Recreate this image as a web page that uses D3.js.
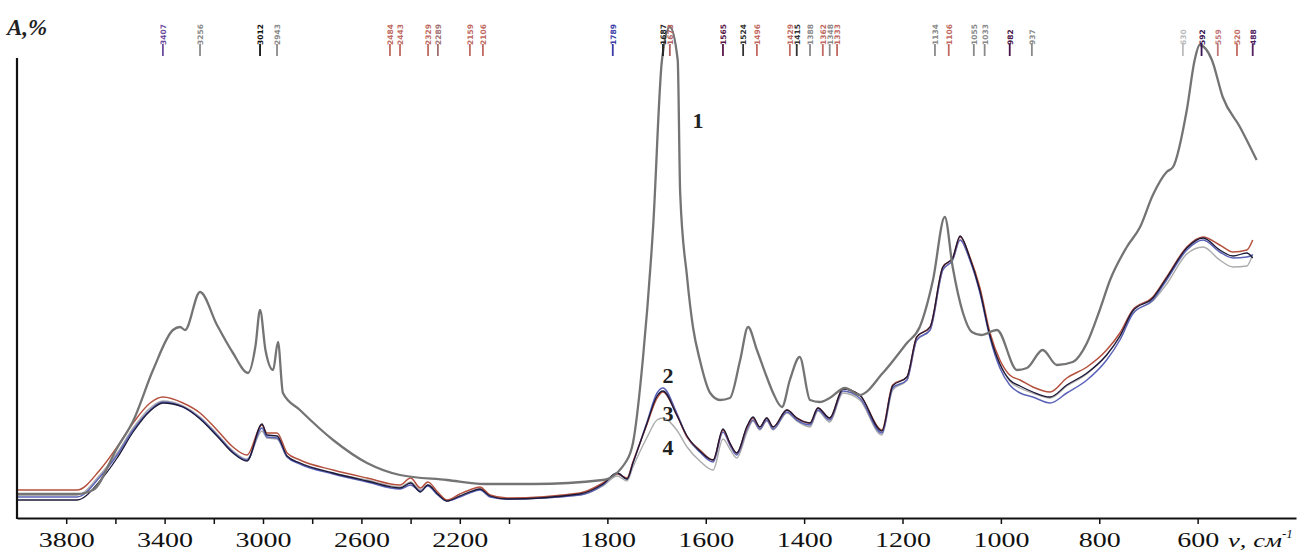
<!DOCTYPE html>
<html>
<head>
<meta charset="utf-8">
<script src="https://cdn.jsdelivr.net/npm/d3@7"></script>
<style>
  body { margin: 0; background: #fff; }
  svg { display: block; }
  .axis text { font-family: "Liberation Serif", "DejaVu Serif", serif; font-size: 20px; fill: #111; }
</style>
</head>
<body>
<svg id="chart" width="1302" height="554"></svg>
<script>
// IR spectra, absorbance vs wavenumber (cm-1)

// curve 1 (gray, top)
const wn1 = [4000,3756,3691,3593,3528,3447,3366,3337,3317,3256,
             3187,3122,3061,3030,3012,2990,2959,2939,2919,2850,
             2715,2577,2443,2252,2100,1950,1809,1760,1748,1728,
             1707,1689,1673,1657,1652,1638,1626,1612,1591,1571,
             1551,1530,1514,1496,1476,1463,1445,1429,1409,1388,
             1368,1348,1317,1287,1240,1191,1165,1138,1114,1098,
             1077,1059,1040,1008,967,947,915,886,854,825,
             799,778,744,717,691,663,650,622,606,596,
             571,549,514,480];
const curve1 = [4.8,4.8,5.6,14.0,19.4,29.6,37.6,38.2,37.6,45.2,
                38.6,33.0,29.0,34.6,41.6,33.6,29.6,35.2,25.0,21.6,
                15.6,11.0,8.6,7.6,6.8,6.8,7.6,11.6,15.0,31.6,
                58.2,91.6,98.2,91.6,65.0,48.2,38.2,31.6,25.0,23.6,
                24.0,31.6,38.2,33.6,28.2,25.0,22.2,27.6,32.2,23.6,
                23.2,24.0,26.0,24.6,29.0,35.0,38.2,47.6,60.2,50.2,
                41.0,37.2,36.6,37.6,29.6,30.0,33.6,30.6,31.2,35.0,
                41.6,47.6,54.2,58.2,64.6,69.2,70.2,81.6,91.6,94.6,
                91.6,84.2,78.2,71.6];

// lower curves share one wavenumber grid
const wnLow = [4000,3756,3663,3593,3528,3459,3407,3325,3256,3187,
               3122,3065,3004,2984,2943,2902,2850,2715,2577,2443,
               2400,2360,2330,2290,2252,2200,2160,2118,2077,2008,
               1856,1809,1780,1760,1748,1720,1699,1687,1659,1638,
               1612,1585,1565,1551,1537,1516,1504,1490,1476,1463,
               1435,1415,1388,1372,1348,1321,1287,1242,1220,1191,
               1171,1144,1118,1098,1083,1063,1043,1022,1002,982,
               961,935,900,866,825,785,758,732,691,663,
               622,589,555,528,500,488];
// curve 2 (blue)
const curve2 = [4.2,4.2,8.2,12.6,17.6,21.6,23.2,22.2,20.0,16.6,
                13.2,11.6,18.0,16.2,16.0,12.2,10.8,8.8,7.2,5.8,
                6.6,5.4,6.4,4.6,3.4,4.2,5.0,5.6,4.2,3.8,
                4.6,6.6,9.0,7.8,11.0,19.0,25.0,26.0,21.0,16.2,
                13.2,11.2,17.2,14.6,12.6,17.8,19.6,17.8,19.6,17.8,
                21.2,19.6,18.6,21.6,19.6,25.4,24.0,17.0,26.0,27.6,
                35.6,37.6,49.6,51.6,55.6,51.6,45.2,36.0,30.0,26.6,
                25.0,24.2,23.0,25.0,27.6,31.6,35.6,40.8,43.6,47.6,
                53.6,55.6,53.2,52.0,52.2,52.6];
// curve 3 (red-brown)
const curve3 = [5.6,5.6,9.6,14.2,19.0,23.0,24.2,23.0,21.0,17.6,
                14.2,12.6,18.6,17.0,17.0,13.0,11.6,9.6,8.0,6.6,
                8.0,6.0,7.2,5.2,3.6,4.8,5.6,6.2,4.6,4.0,
                5.0,7.0,8.8,8.0,11.2,18.6,24.0,25.2,20.6,16.2,
                13.6,11.6,17.6,15.0,13.0,18.2,20.0,18.2,20.0,18.2,
                21.6,20.0,19.0,22.0,20.0,25.8,24.6,17.6,26.6,28.2,
                36.2,38.2,50.2,52.0,56.2,52.2,46.2,37.0,31.6,28.6,
                27.6,26.2,25.2,28.0,30.2,33.6,37.0,41.6,44.2,48.2,
                54.2,56.2,54.6,53.2,53.6,55.6];
// curve 3, dark trace
const curve3b = [3.6,3.6,7.4,12.0,17.2,21.4,23.0,22.2,19.8,16.4,
                 13.0,11.4,18.8,16.6,16.4,12.4,11.0,9.0,7.4,6.0,
                 7.0,5.2,6.6,4.8,3.4,4.4,5.2,5.8,4.4,3.8,
                 4.8,6.8,9.0,7.8,11.0,18.8,24.4,25.4,20.6,16.4,
                 13.4,11.6,17.8,15.0,13.0,18.4,20.2,18.2,20.0,18.2,
                 21.6,20.0,19.0,22.0,20.0,25.8,24.6,17.4,26.4,28.2,
                 36.2,38.2,50.2,52.0,56.4,52.0,45.6,36.4,30.8,27.6,
                 26.4,25.2,24.2,26.6,29.0,32.6,36.4,41.4,44.0,48.0,
                 54.0,56.0,53.6,52.4,53.0,52.0];
// curve 4 (light gray)
const curve4 = [4.6,4.6,8.6,13.0,18.0,22.0,23.4,22.4,20.2,16.8,
                13.4,11.8,17.4,16.0,15.8,12.2,11.0,9.0,7.6,6.2,
                7.2,5.6,6.6,4.8,3.4,4.4,5.2,5.8,4.4,3.8,
                4.6,6.4,8.4,7.4,10.2,16.0,19.6,20.0,17.6,14.2,
                11.4,9.6,15.8,13.8,12.0,17.2,19.4,17.6,19.4,17.6,
                21.0,19.4,18.2,21.4,19.2,25.0,23.6,16.6,25.6,27.6,
                35.6,37.6,49.6,51.6,55.6,51.6,45.6,36.4,30.8,27.4,
                26.0,25.0,24.0,26.4,28.8,32.6,36.2,41.0,43.4,46.8,
                52.8,54.2,51.6,50.2,50.4,52.8];

// x axis ticks
const tickVals = [3800,3600,3400,3200,3000,2800,2600,2400,2200,2000,1800,1600,1400,1200,1000,800,600];
const tickLabels = [3800,3400,3000,2600,2200,1800,1600,1400,1200,1000,800,600];

// peak marks printed along the top edge
const markWn = [3407,3256,3012,2943,2484,2443,2329,2289,2159,2106,
                1789,1687,1673,1565,1524,1496,1429,1415,1388,1362,
                1348,1333,1134,1106,1055,1033,982,937,630,592,559,520,488];
const markColor = ['#6a4b9c','#8a8a8a','#111111','#8a8a8a','#c06a62','#c06a62','#c06a62','#a07070','#c06a62','#c06a62',
                   '#3a3aa8','#222222','#b06060','#5a1848','#333333','#c06a62','#c06a62','#333333','#8a8a8a','#c06a62',
                   '#8a8a8a','#c06a62','#8a8a8a','#c06a62','#8a8a8a','#8a8a8a','#4a1448','#8a8a8a','#bbbbbb','#3a1450',
                   '#c07878','#c06a62','#502060'];

// curve numbers: text, wavenumber, absorbance
const curveLabels = [
  { t: '1', wn: 1616, a: 79.6 },
  { t: '2', wn: 1677, a: 28.6 },
  { t: '3', wn: 1677, a: 21.0 },
  { t: '4', wn: 1677, a: 14.2 }
];

const svg = d3.select('#chart');

// scale switches at 2000 cm-1, like the instrument chart
const x = d3.scaleLinear().domain([4000, 2000, 400]).range([17, 509, 1296]);
const y = d3.scaleLinear().domain([0, 100]).range([518, 18]);

const line = d3.line()
  .x(d => x(d[0]))
  .y(d => y(d[1]))
  .curve(d3.curveMonotoneX);

const series = [
  { wn: wnLow, v: curve4, color: '#ababab', w: 1.4 },
  { wn: wnLow, v: curve2, color: '#5b63b8', w: 1.5 },
  { wn: wnLow, v: curve3, color: '#b4503e', w: 1.5 },
  { wn: wnLow, v: curve3b, color: '#1b1838', w: 1.3 },
  { wn: wn1, v: curve1, color: '#747474', w: 2.3 }
];

series.forEach(s => {
  svg.append('path')
    .datum(s.wn.map((w, i) => [w, s.v[i]]))
    .attr('d', line)
    .attr('fill', 'none')
    .attr('stroke', s.color)
    .attr('stroke-width', s.w)
    .attr('stroke-linejoin', 'round');
});

// axes
const xAxis = d3.axisBottom(x)
  .tickValues(tickVals)
  .tickSize(6)
  .tickSizeOuter(0)
  .tickPadding(9)
  .tickFormat(d => tickLabels.includes(d) ? d : '');

const gx = svg.append('g')
  .attr('class', 'axis')
  .attr('transform', `translate(0,${y(0)})`)
  .call(xAxis);
gx.select('.domain').attr('stroke', '#111').attr('stroke-width', 2.2);
gx.selectAll('.tick line').attr('stroke', '#111').attr('stroke-width', 1.5);
// the scanned labels are wide, stretch them a bit
gx.selectAll('.tick text')
  .filter(d => tickLabels.includes(d))
  .attr('textLength', d => String(d).length * 14)
  .attr('lengthAdjust', 'spacingAndGlyphs');

svg.append('line')
  .attr('x1', x(4000)).attr('x2', x(4000))
  .attr('y1', y(0) + 1).attr('y2', y(92))
  .attr('stroke', '#111').attr('stroke-width', 2.2);

// axis titles
svg.append('text')
  .attr('x', 7).attr('y', 35)
  .attr('font-family', '"Liberation Serif", serif')
  .attr('font-size', 23).attr('font-weight', 'bold').attr('font-style', 'italic')
  .attr('fill', '#222')
  .text('A,%');

const xt = svg.append('text')
  .attr('x', 1228).attr('y', 547)
  .attr('font-family', '"Liberation Serif", serif')
  .attr('font-size', 19).attr('font-style', 'italic')
  .attr('fill', '#111');
xt.append('tspan').attr('textLength', 54).attr('lengthAdjust', 'spacingAndGlyphs').text('ν, см');
xt.append('tspan').attr('dy', -9).attr('font-size', 13).text('-1');

// peak marks
const marks = svg.append('g');
markWn.forEach((w, i) => {
  const mx = x(w);
  marks.append('line')
    .attr('x1', mx).attr('x2', mx)
    .attr('y1', 44).attr('y2', 56)
    .attr('stroke', markColor[i]).attr('stroke-width', 1.8);
  marks.append('text')
    .attr('transform', `translate(${mx + 3},45) rotate(-90)`)
    .attr('font-family', '"DejaVu Sans", sans-serif')
    .attr('font-size', 7.5)
    .attr('font-weight', 'bold')
    .attr('fill', markColor[i])
    .text(w);
});

// curve numbers
svg.selectAll('.clabel')
  .data(curveLabels)
  .enter()
  .append('text')
  .attr('class', 'clabel')
  .attr('x', d => x(d.wn))
  .attr('y', d => y(d.a))
  .attr('text-anchor', 'middle')
  .attr('dominant-baseline', 'central')
  .attr('font-family', '"Liberation Serif", serif')
  .attr('font-size', 22)
  .attr('font-weight', 'bold')
  .attr('fill', '#222')
  .text(d => d.t);
</script>
</body>
</html>
